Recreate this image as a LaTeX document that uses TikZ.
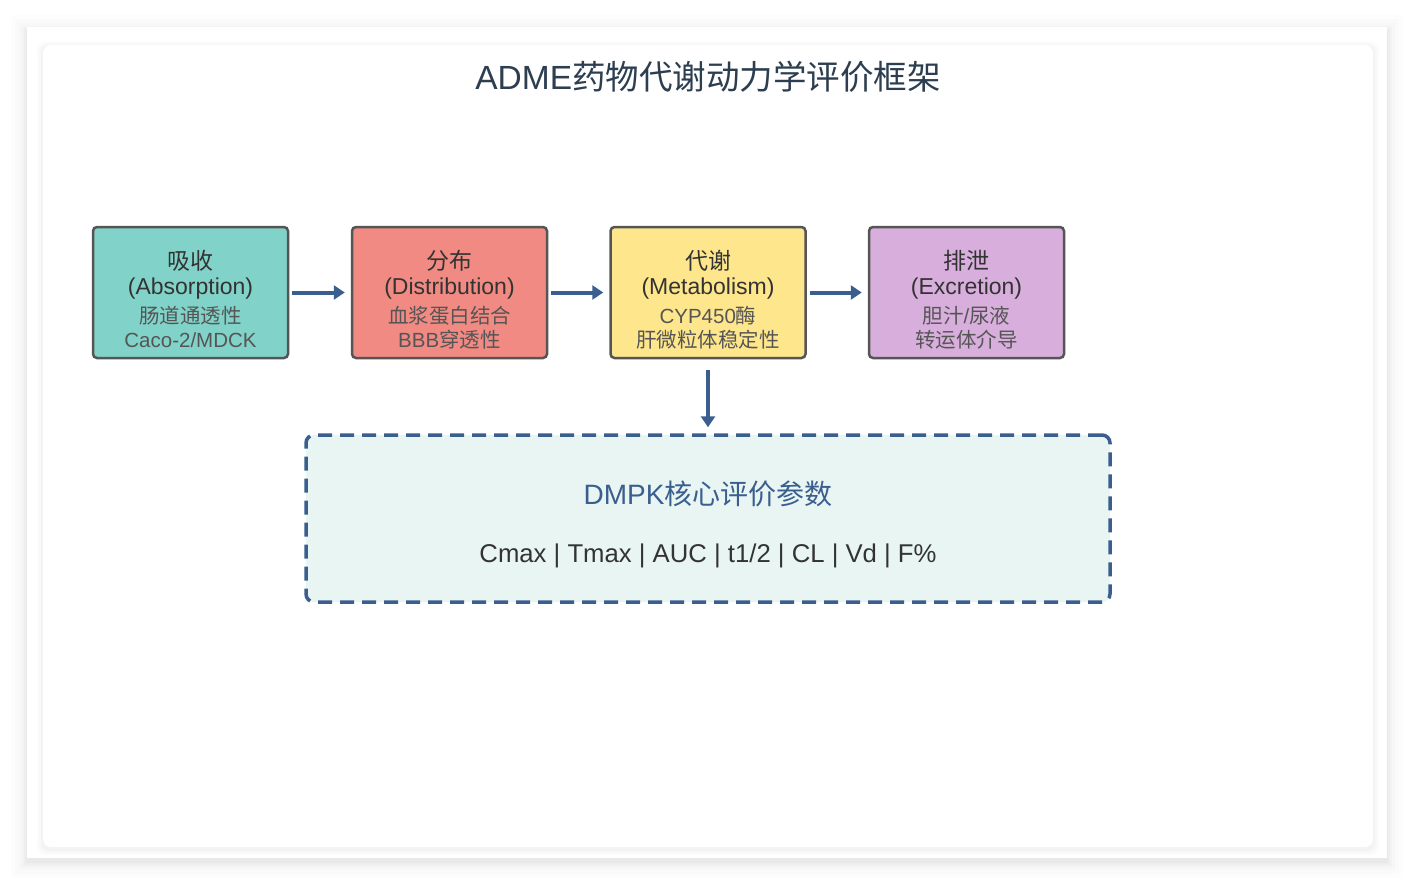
\documentclass[tikz,border=0pt]{standalone}
\usepackage{fontspec}
\usetikzlibrary{arrows.meta}
\setmainfont{Liberation Sans}
\newfontfamily\cjkf{Noto Sans CJK SC}
\newcommand{\zh}[1]{{\cjkf #1}}
\definecolor{navy}{HTML}{2C3E50}
\definecolor{steel}{HTML}{3A5F8E}
\definecolor{boxline}{HTML}{555555}
\definecolor{subtxt}{HTML}{555555}
\definecolor{maintxt}{HTML}{333333}
\definecolor{cA}{HTML}{81D3C9}
\definecolor{cD}{HTML}{F08A82}
\definecolor{cM}{HTML}{FDE68C}
\definecolor{cE}{HTML}{D8AEDC}
\definecolor{dmpkfill}{HTML}{E9F5F3}
\begin{document}
\begin{tikzpicture}[x=1pt,y=-1pt,
  stage/.style={draw=boxline,line width=2.5pt,rounded corners=4pt,minimum width=195pt,minimum height=131pt,inner sep=0pt},
  head/.style={text=maintxt,font=\fontsize{23}{27}\selectfont,inner sep=0pt},
  sub/.style={text=subtxt,font=\fontsize{20.5}{24}\selectfont,inner sep=0pt},
  flow/.style={draw=steel,line width=4pt,-{Triangle[length=11pt,width=14pt]}}
]
\useasboundingbox (0,0) rectangle (1414,886);
% outer card shadow
\foreach \i/\o in {16/0.007,12/0.010,8/0.013,5/0.016,3/0.018,1/0.02}{
  \fill[black,opacity=\o] (27-\i,27-\i+4) rectangle (1387+\i,858+\i+4);
}
\fill[white] (27,27) rectangle (1387,858);
% inner card shadow
\foreach \i/\o in {6/0.010,4/0.015,2/0.02}{
  \fill[black,opacity=\o,rounded corners=8pt] (43-\i,45-\i+2) rectangle (1373+\i,847+\i+2);
}
\fill[white,rounded corners=8pt] (43,45) rectangle (1373,847);

\node[text=navy,font=\fontsize{33.5}{38}\selectfont,inner sep=0pt] (title) at (708,77) {ADME\zh{药物代谢动力学评价框架}};

\node[stage,fill=cA] (abs) at (190.5,292.5) {};
\node[stage,fill=cD] (dis) at (449.5,292.5) {};
\node[stage,fill=cM] (met) at (708,292.5) {};
\node[stage,fill=cE] (exc) at (966.5,292.5) {};

\node[head] (absh) at (190.5,261) {\zh{吸收}};
\node[head] (abse) at (190.5,288.5) {(Absorption)};
\node[sub] (abs1) at (190.5,316) {\zh{肠道通透性}};
\node[sub] (abs2) at (190.5,340) {Caco-2/MDCK};

\node[head] (dish) at (449.5,261) {\zh{分布}};
\node[head] (dise) at (449.5,288.5) {(Distribution)};
\node[sub] (dis1) at (449.5,316) {\zh{血浆蛋白结合}};
\node[sub] (dis2) at (449.5,340) {BBB\zh{穿透性}};

\node[head] (meth) at (708,261) {\zh{代谢}};
\node[head] (mete) at (708,288.5) {(Metabolism)};
\node[sub] (met1) at (708,316) {CYP450\zh{酶}};
\node[sub] (met2) at (708,340) {\zh{肝微粒体稳定性}};

\node[head] (exch) at (966.5,261) {\zh{排泄}};
\node[head] (exce) at (966.5,288.5) {(Excretion)};
\node[sub] (exc1) at (966.5,316) {\zh{胆汁}/\zh{尿液}};
\node[sub] (exc2) at (966.5,340) {\zh{转运体介导}};

\node[draw=steel,fill=dmpkfill,line width=3.5pt,dash pattern=on 14pt off 8pt,rounded corners=8pt,minimum width=804pt,minimum height=167pt,inner sep=0pt] (dmpk) at (708,518.5) {};
\node[text=steel,font=\fontsize{28}{32}\selectfont,inner sep=0pt] (dmpkt) at (708,494) {DMPK\zh{核心评价参数}};
\node[text=maintxt,font=\fontsize{25.7}{30}\selectfont,inner sep=0pt] (params) at (708,555.5) {Cmax | Tmax | AUC | t1/2 | CL | Vd | F\%};

\draw[flow,shorten <=3pt,shorten >=6pt] (abs.east) -- (dis.west);
\draw[flow,shorten <=3pt,shorten >=6pt] (dis.east) -- (met.west);
\draw[flow,shorten <=3pt,shorten >=6pt] (met.east) -- (exc.west);
\draw[flow,shorten <=11pt,shorten >=6pt] (met.south) -- (dmpk.north);
\end{tikzpicture}
\end{document}
